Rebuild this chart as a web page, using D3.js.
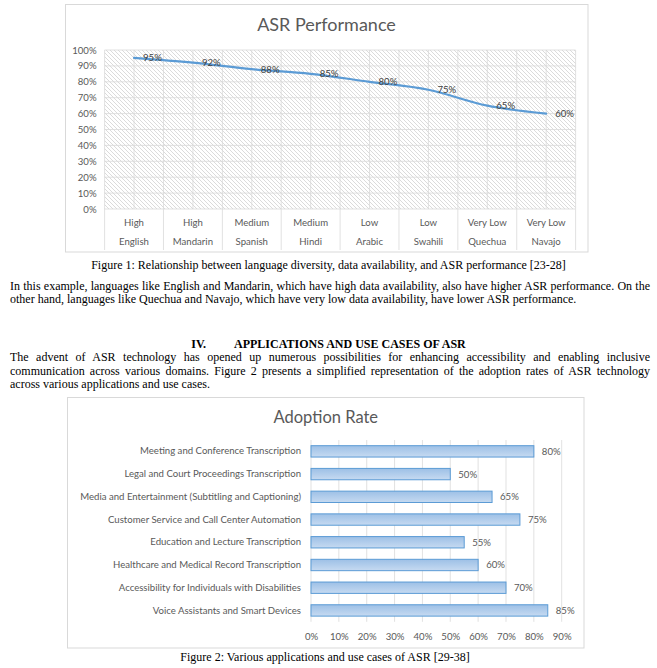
<!DOCTYPE html>
<html><head><meta charset="utf-8">
<script src="https://cdn.jsdelivr.net/npm/d3@7"></script>
<style>
body{margin:0;background:#fff;width:657px;height:668px;position:relative;overflow:hidden}
.t{position:absolute;font-family:"Liberation Serif","Times New Roman",serif;font-size:12px;line-height:14px;color:#000;white-space:nowrap}
.j{text-align:justify;text-align-last:justify;white-space:normal}
.b{font-weight:bold}
svg text{font-family:Lato,"Open Sans",sans-serif}
</style></head><body>
<svg id="c" width="657" height="668" style="position:absolute;left:0;top:0"></svg>
<div id="txt"></div>
<script>
// ---------- data ----------
const languages = ["English","Mandarin","Spanish","Hindi","Arabic","Swahili","Quechua","Navajo"];
const availability = ["High","High","Medium","Medium","Low","Low","Very Low","Very Low"];
const asrPerformance = [95,92,88,85,80,75,65,60];
const perfTicks = [0,10,20,30,40,50,60,70,80,90,100];

const applications = [
  "Meeting and Conference Transcription",
  "Legal and Court Proceedings Transcription",
  "Media and Entertainment (Subtitling and Captioning)",
  "Customer Service and Call Center Automation",
  "Education and Lecture Transcription",
  "Healthcare and Medical Record Transcription",
  "Accessibility for Individuals with Disabilities",
  "Voice Assistants and Smart Devices"
];
const adoptionRate = [80,50,65,75,55,60,70,85];
const rateTicks = [0,10,20,30,40,50,60,70,80,90];

const title1 = "ASR Performance";
const title2 = "Adoption Rate";
const caption1 = "Figure 1: Relationship between language diversity, data availability, and ASR performance [23-28]";
const caption2 = "Figure 2: Various applications and use cases of ASR [29-38]";
const para1 = [
  "In this example, languages like English and Mandarin, which have high data availability, also have higher ASR performance. On the",
  "other hand, languages like Quechua and Navajo, which have very low data availability, have lower ASR performance."
];
const headingNum = "IV.";
const headingText = "APPLICATIONS AND USE CASES OF ASR";
const para2 = [
  "The advent of ASR technology has opened up numerous possibilities for enhancing accessibility and enabling inclusive",
  "communication across various domains. Figure 2 presents a simplified representation of the adoption rates of ASR technology",
  "across various applications and use cases."
];

// ---------- text blocks ----------
const txt = d3.select("#txt");
const L = 10, W = 640;
function addLines(lines, top0, step){
  lines.forEach((s,i)=>{
    const last = i===lines.length-1;
    txt.append("div").attr("class","t"+(last?"":" j"))
      .style("left",L+"px").style("width",W+"px").style("top",(top0+i*step)+"px").text(s);
  });
}
txt.append("div").attr("class","t").style("left","0px").style("width","657px").style("text-align","center")
  .style("top","258px").text(caption1);
addLines(para1, 279, 13);
const h = txt.append("div").attr("class","t b").style("left","0px").style("width","657px").style("text-align","center").style("top","337px");
h.append("span").text(headingNum);
h.append("span").style("display","inline-block").style("width","28px");
h.append("span").text(headingText);
addLines(para2, 350, 13.7);
txt.append("div").attr("class","t").style("left","0px").style("width","650px").style("text-align","center")
  .style("top","650px").text(caption2);

// ---------- chart 1 ----------
const svg = d3.select("#c");
const defs = svg.append("defs");
const pat = defs.append("pattern").attr("id","hatch").attr("patternUnits","userSpaceOnUse").attr("width",4).attr("height",4);
pat.append("rect").attr("width",4).attr("height",4).attr("fill","#fff");
pat.append("path").attr("d","M-1,-1 L5,5 M-1,3 L1,5 M3,-1 L5,1").attr("stroke","#d2d2d2").attr("stroke-width",0.8);

const grad = defs.append("linearGradient").attr("id","barg").attr("x1",0).attr("y1",0).attr("x2",0).attr("y2",1);
grad.append("stop").attr("offset","0%").attr("stop-color","#9dc0e6");
grad.append("stop").attr("offset","100%").attr("stop-color","#c6daf1");

const g1 = svg.append("g");
g1.append("rect").attr("x",65.5).attr("y",4.5).attr("width",522.5).attr("height",247.5)
  .attr("fill","#fff").attr("stroke","#d9d9d9");
g1.append("text").attr("x",326.5).attr("y",31).attr("text-anchor","middle")
  .attr("font-size",18).attr("fill","#595959").text(title1);

const x1 = d3.scaleBand().domain(languages).range([104.6,575.6]);
const y1 = d3.scaleLinear().domain([0,100]).range([209,50]);
const bw = x1.bandwidth();

g1.append("rect").attr("x",x1.range()[0]).attr("y",y1(100)).attr("width",x1.range()[1]-x1.range()[0])
  .attr("height",y1(0)-y1(100)).attr("fill","url(#hatch)");

// gridlines
g1.append("g").selectAll("line").data(perfTicks).join("line")
  .attr("x1",x1.range()[0]).attr("x2",x1.range()[1]).attr("y1",d=>y1(d)).attr("y2",d=>y1(d))
  .attr("stroke","#d9d9d9").attr("stroke-width",0.8);
const vx = [];
languages.forEach(l=>{vx.push(x1(l)); vx.push(x1(l)+bw/2);});
vx.push(x1.range()[1]);
g1.append("g").selectAll("line").data(vx).join("line")
  .attr("x1",d=>d).attr("x2",d=>d).attr("y1",y1(100)).attr("y2",y1(0))
  .attr("stroke","#d9d9d9").attr("stroke-width",0.8);

// y axis
const ya = g1.append("g").attr("transform",`translate(${x1.range()[0]-8},0)`)
  .call(d3.axisLeft(y1).tickValues(perfTicks).tickFormat(d=>d+"%").tickSize(0).tickPadding(0));
ya.select(".domain").remove();
ya.selectAll("text").attr("font-family","Lato").attr("font-size",9.6).attr("fill","#595959");

// category axis (two-level)
const sep = languages.map(l=>x1(l)).concat([x1.range()[1]]);
g1.append("g").selectAll("line").data(sep).join("line")
  .attr("x1",d=>d).attr("x2",d=>d).attr("y1",y1(0)).attr("y2",250)
  .attr("stroke","#d9d9d9").attr("stroke-width",0.8);
g1.append("g").selectAll("text").data(languages).join("text")
  .attr("x",d=>x1(d)+bw/2).attr("y",226).attr("text-anchor","middle")
  .attr("font-size",9.6).attr("fill","#595959").text((d,i)=>availability[i]);
g1.append("g").selectAll("text").data(languages).join("text")
  .attr("x",d=>x1(d)+bw/2).attr("y",245).attr("text-anchor","middle")
  .attr("font-size",9.6).attr("fill","#595959").text(d=>d);

// line
const pts = languages.map((l,i)=>[x1(l)+bw/2, y1(asrPerformance[i])]);
g1.append("path").attr("d",d3.line().curve(d3.curveCatmullRom.alpha(0.5))(pts))
  .attr("fill","none").attr("stroke","#5b9bd5").attr("stroke-width",2.2).attr("stroke-linecap","round");
g1.append("g").selectAll("text").data(languages).join("text")
  .attr("x",d=>x1(d)+bw/2+9).attr("y",(d,i)=>y1(asrPerformance[i])+3.5)
  .attr("font-size",9.6).attr("fill","#404040").text((d,i)=>asrPerformance[i]+"%");

// ---------- chart 2 ----------
const g2 = svg.append("g");
g2.append("rect").attr("x",67.5).attr("y",397.5).attr("width",516.5).attr("height",250.5)
  .attr("fill","#fff").attr("stroke","#d9d9d9");
g2.append("text").attr("x",325.8).attr("y",423).attr("text-anchor","middle")
  .attr("font-size",16.5).attr("fill","#595959").text(title2);

const x2 = d3.scaleLinear().domain([0,90]).range([311,561.7]);
const y2 = d3.scaleBand().domain(applications).range([440,621.8]).paddingInner(0.5).paddingOuter(0.25);

g2.append("g").selectAll("line").data(rateTicks).join("line")
  .attr("x1",d=>x2(d)).attr("x2",d=>x2(d)).attr("y1",440).attr("y2",621.8)
  .attr("stroke","#d9d9d9").attr("stroke-width",0.8);

const xa = g2.append("g").attr("transform","translate(0,640)")
  .call(d3.axisBottom(x2).tickValues(rateTicks).tickFormat(d=>d+"%").tickSize(0).tickPadding(0));
xa.select(".domain").remove();
xa.selectAll("text").attr("font-family","Lato").attr("font-size",9.6).attr("fill","#595959").attr("dy","0");

const ca = g2.append("g").attr("transform","translate(301,0)")
  .call(d3.axisLeft(y2).tickSize(0).tickPadding(0));
ca.select(".domain").remove();
ca.selectAll("text").attr("font-family","Lato").attr("font-size",9.6).attr("fill","#595959");

g2.append("g").selectAll("rect").data(applications).join("rect")
  .attr("x",x2(0)).attr("y",d=>y2(d)).attr("width",(d,i)=>x2(adoptionRate[i])-x2(0))
  .attr("height",y2.bandwidth()).attr("fill","url(#barg)").attr("stroke","#5b9bd5").attr("stroke-width",1);
g2.append("g").selectAll("text").data(applications).join("text")
  .attr("x",(d,i)=>x2(adoptionRate[i])+8).attr("y",d=>y2(d)+y2.bandwidth()/2+3.5)
  .attr("font-size",9.6).attr("fill","#595959").text((d,i)=>adoptionRate[i]+"%");
</script>
</body></html>
